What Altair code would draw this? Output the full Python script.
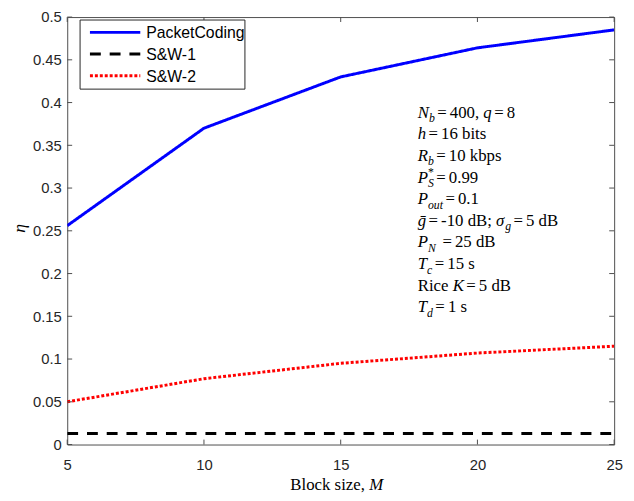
import altair as alt
import pandas as pd

# ---------------- data ----------------
M = [5, 10, 15, 20, 25]
packet_coding = [0.256, 0.370, 0.430, 0.464, 0.485]
sw1 = [0.013, 0.013, 0.013, 0.013, 0.013]
sw2 = [0.050, 0.077, 0.095, 0.107, 0.115]
series = ["PacketCoding", "S&W-1", "S&W-2"]
colors = ["#0000ff", "#000000", "#ff0000"]
dashes = [[1, 0], [11, 9], [3, 2]]
x_ticks = [5, 10, 15, 20, 25]
y_ticks = [0, 0.05, 0.1, 0.15, 0.2, 0.25, 0.3, 0.35, 0.4, 0.45, 0.5]

# annotation lines: (text, style r/i, kind)
annotation = [
    [("N", "i", "n"), ("b", "i", "sub"), ("=", "r", "rel"), ("400, ", "r", "n"), ("q", "i", "n"), ("=", "r", "rel"), ("8", "r", "n")],
    [("h", "i", "n"), ("=", "r", "rel"), ("16 bits", "r", "n")],
    [("R", "i", "n"), ("b", "i", "sub"), ("=", "r", "rel"), ("10 kbps", "r", "n")],
    [("P", "i", "n"), ("*", "r", "sup0"), ("S", "i", "sub"), ("=", "r", "rel"), ("0.99", "r", "n")],
    [("P", "i", "n"), ("out", "i", "sub"), ("=", "r", "rel"), ("0.1", "r", "n")],
    [("ḡ", "i", "n"), ("=", "r", "rel"), ("-10 dB; ", "r", "n"), ("σ", "i", "n"), ("g", "i", "sub"), ("=", "r", "rel"), ("5 dB", "r", "n")],
    [("P", "i", "n"), ("N", "i", "sub"), (" ", "r", "n"), ("=", "r", "rel"), (" 25 dB", "r", "n")],
    [("T", "i", "n"), ("c", "i", "sub"), ("=", "r", "rel"), ("15 s", "r", "n")],
    [("Rice ", "r", "n"), ("K", "i", "n"), ("=", "r", "rel"), ("5 dB", "r", "n")],
    [("T", "i", "n"), ("d", "i", "sub"), ("=", "r", "rel"), ("1 s", "r", "n")],
]
x_title = [("Block size, ", "r", "n"), ("M", "i", "n")]
y_title = "η"

# ---------------- layout helpers ----------------
LEFT, TOP = 68, 14          # plot origin on the page
W, H = 554, 433
FRAME = "#4d4d4d"
SERIF = "Liberation Serif"
SANS = "Liberation Sans"

ROMAN = {' ': 250, '=': 600, ',': 250, '.': 250, '-': 333, ';': 278, '*': 500,
         'a': 444, 'b': 500, 'c': 444, 'd': 500, 'e': 444, 'i': 278, 'k': 500, 'l': 278,
         'n': 500, 'o': 500, 'p': 500, 's': 389, 't': 278, 'u': 500, 'z': 444,
         'B': 667, 'R': 667, 'K': 722, 'N': 722, 'P': 556, 'T': 611, 'S': 556, 'M': 889}
for d in "0123456789":
    ROMAN[d] = 500
ITALIC = {'N': 667, 'q': 500, 'h': 500, 'R': 611, 'P': 611, 'T': 556, 'K': 667, 'S': 500,
          'M': 833, 'b': 500, 'c': 444, 'd': 500, 'g': 500, 'ḡ': 500, 'o': 500, 'u': 500,
          't': 278, 'σ': 540, ' ': 250}


def text_width(t, style, fs):
    table = ITALIC if style == "i" else ROMAN
    return sum(table.get(ch, 500) for ch in t) * fs / 1000.0


def layout(segs, fs, rel=2.5):
    x = 0.0
    rows = []
    for t, style, kind in segs:
        if kind == "rel":
            x += rel
        small = kind in ("sub", "sup0")
        size = fs * 0.7 if small else fs
        dy = 4.5 if kind == "sub" else (-7.0 if kind == "sup0" else 0.0)
        rows.append(dict(px=x, dy=dy, text=t, style=style, fs=size))
        if kind != "sup0":
            x += text_width(t, style, size)
        if kind == "rel":
            x += rel
    return rows, x


def to_x(page_x):
    return 5 + (page_x - LEFT) / W * 20


def to_y(page_y):
    return 0.5 * (1 - (page_y - TOP) / H)


ann_rows = []
FS = 17
for i, segs in enumerate(annotation):
    rows, _ = layout(segs, FS)
    base = 116.0 + 21.9 * i
    for r in rows:
        ann_rows.append(dict(X=to_x(423 + r["px"]), Y=to_y(base + r["dy"]),
                             text=r["text"], style=r["style"], fs=r["fs"]))
rows, tw = layout(x_title, 17, rel=0)
for r in rows:
    ann_rows.append(dict(X=to_x(341 - tw / 2 + r["px"]), Y=to_y(493),
                         text=r["text"], style=r["style"], fs=r["fs"]))
ann = pd.DataFrame(ann_rows)

xs = alt.Scale(domain=[5, 25], nice=False, zero=False)
ys = alt.Scale(domain=[0, 0.5], nice=False, zero=False)
X_AXIS = alt.Axis(values=x_ticks, format="d", title=None, grid=False, ticks=False,
                  domain=False, labelFont=SANS, labelFontSize=15,
                  labelColor="#262626", labelPadding=13, labelFlush=False)
Y_AXIS = alt.Axis(values=y_ticks, format="~g", title=None, grid=False, ticks=False,
                  domain=False, labelFont=SANS, labelFontSize=15,
                  labelColor="#262626", labelPadding=6, labelFlush=False)


def X(field):
    return alt.X(field, scale=xs, axis=X_AXIS)


def Y(field):
    return alt.Y(field, scale=ys, axis=Y_AXIS)


# ---------------- main lines ----------------
df = pd.DataFrame({
    "M": M * 3,
    "eta": packet_coding + sw1 + sw2,
    "series": [series[0]] * 5 + [series[1]] * 5 + [series[2]] * 5,
})

lines = alt.Chart(df).mark_line(strokeWidth=3, clip=True).encode(
    x=X("M:Q"),
    y=Y("eta:Q"),
    color=alt.Color("series:N", scale=alt.Scale(domain=series, range=colors), legend=None),
    strokeDash=alt.StrokeDash("series:N", scale=alt.Scale(domain=series, range=dashes), legend=None),
    detail="series:N",
)

# ---------------- inward ticks ----------------
xt = pd.DataFrame({"M": x_ticks})
yt = pd.DataFrame({"eta": y_ticks})
tick_bottom = alt.Chart(xt).mark_rule(color=FRAME, strokeWidth=1).encode(
    x=X("M:Q"), y=alt.value(H), y2=alt.value(H - 5))
tick_top = alt.Chart(xt).mark_rule(color=FRAME, strokeWidth=1).encode(
    x=X("M:Q"), y=alt.value(0), y2=alt.value(5))
tick_left = alt.Chart(yt).mark_rule(color=FRAME, strokeWidth=1).encode(
    y=Y("eta:Q"), x=alt.value(0), x2=alt.value(5))
tick_right = alt.Chart(yt).mark_rule(color=FRAME, strokeWidth=1).encode(
    y=Y("eta:Q"), x=alt.value(W), x2=alt.value(W - 5))

# ---------------- legend ----------------
one = pd.DataFrame({"k": [0]})
legend_layers = [
    alt.Chart(one).mark_rect(fill="white", stroke="#262626", strokeWidth=1).encode(
        x=alt.value(81 - LEFT), x2=alt.value(248 - LEFT),
        y=alt.value(17 - TOP), y2=alt.value(87 - TOP))
]
for i, name in enumerate(series):
    yy = 29.5 + 22 * i - TOP
    legend_layers.append(
        alt.Chart(one).mark_rule(color=colors[i], strokeWidth=3, strokeDash=dashes[i]).encode(
            x=alt.value(91 - LEFT), x2=alt.value(142 - LEFT), y=alt.value(yy)))
    legend_layers.append(
        alt.Chart(one).mark_text(align="left", baseline="middle", font=SANS, fontSize=16,
                                 color="black").encode(
            x=alt.value(148 - LEFT), y=alt.value(yy + 1), text=alt.value(name)))

# ---------------- annotation text ----------------
ann_r = alt.Chart(ann[ann["style"] == "r"]).mark_text(
    align="left", baseline="alphabetic", font=SERIF, color="black").encode(
    x=X("X:Q"), y=Y("Y:Q"),
    size=alt.Size("fs:Q", scale=None, legend=None), text="text:N")
ann_i = alt.Chart(ann[ann["style"] == "i"]).mark_text(
    align="left", baseline="alphabetic", font=SERIF, fontStyle="italic", color="black").encode(
    x=X("X:Q"), y=Y("Y:Q"),
    size=alt.Size("fs:Q", scale=None, legend=None), text="text:N")

ytitle = alt.Chart(one).mark_text(
    align="center", baseline="middle", font=SERIF, fontStyle="italic", fontSize=18,
    angle=270, color="black").encode(
    x=alt.value(20 - LEFT), y=alt.value(228 - TOP), text=alt.value(y_title))

chart = alt.layer(
    lines, tick_bottom, tick_top, tick_left, tick_right, *legend_layers, ann_r, ann_i, ytitle
).properties(
    width=W, height=H,
    padding={"left": LEFT - 8, "top": TOP - 8, "right": 12, "bottom": 53},
    autosize=alt.AutoSizeParams(type="none"),
    background="white",
).configure_view(stroke=FRAME, strokeWidth=1)

chart.save("out.html", embed_options={"renderer": "svg", "actions": False})
